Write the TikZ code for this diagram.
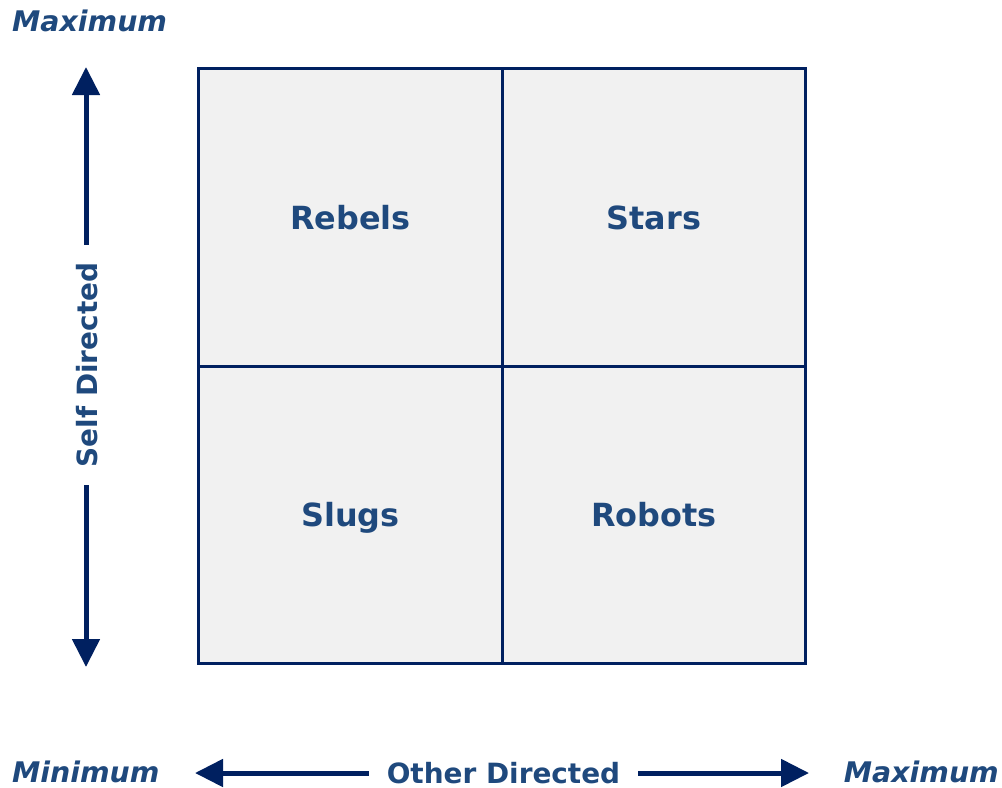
\documentclass[tikz,border=0pt]{standalone}
\usepackage{fontspec}
\setmainfont{DejaVu Sans}
\usetikzlibrary{arrows.meta}

\definecolor{navy}{HTML}{002060}
\definecolor{textblue}{HTML}{1F497D}
\definecolor{cellgray}{HTML}{F1F1F1}

\tikzset{
  cell/.style={draw=navy, line width=3bp, fill=cellgray, minimum width=303.5bp,
    minimum height=297.5bp, inner sep=0pt, text height=23bp, text depth=0pt,
    font=\fontsize{32}{38}\selectfont\bfseries, text=textblue},
  axis/.style={line width=5bp, navy, -{Triangle[length=28bp,width=27bp]}},
  axislabel/.style={font=\fontsize{28}{34}\selectfont\bfseries, text=textblue,
    inner xsep=18bp, inner ysep=0pt, text height=20.5bp, text depth=0pt},
  endlabel/.style={font=\fontsize{28.5}{34}\selectfont\bfseries\itshape, text=textblue,
    inner sep=0pt, text height=21bp, text depth=0pt}
}

\begin{document}
\begin{tikzpicture}[x=1bp, y=-1bp]
  \useasboundingbox (0,0) rectangle (1002,788);

  % the four quadrants
  \node[cell] (rebels) at (350.5,217.5) {Rebels};
  \node[cell] (stars)  at (654,217.5)   {Stars};
  \node[cell] (slugs)  at (350.5,515)   {Slugs};
  \node[cell] (robots) at (654,515)     {Robots};

  % vertical axis
  \coordinate (ymax) at (86,67);
  \coordinate (ymin) at (86,667);
  \node[axislabel, rotate=90] (selfdir) at (87,365) {Self Directed};
  \draw[axis] (86,365 |- selfdir.east) -- (ymax);
  \draw[axis] (86,365 |- selfdir.west) -- (ymin);

  % horizontal axis
  \coordinate (xmin) at (195,773);
  \coordinate (xmax) at (809,773);
  \node[axislabel] (otherdir) at (503.5,773) {Other Directed};
  \draw[axis] (otherdir.west) -- (xmin);
  \draw[axis] (otherdir.east) -- (xmax);

  % end labels
  \node[endlabel, anchor=west] (topmax) at (12,21) {Maximum};
  \node[endlabel, anchor=west] (botmin) at (12,772) {Minimum};
  \node[endlabel, anchor=east] (botmax) at (999,772) {Maximum};
\end{tikzpicture}
\end{document}
